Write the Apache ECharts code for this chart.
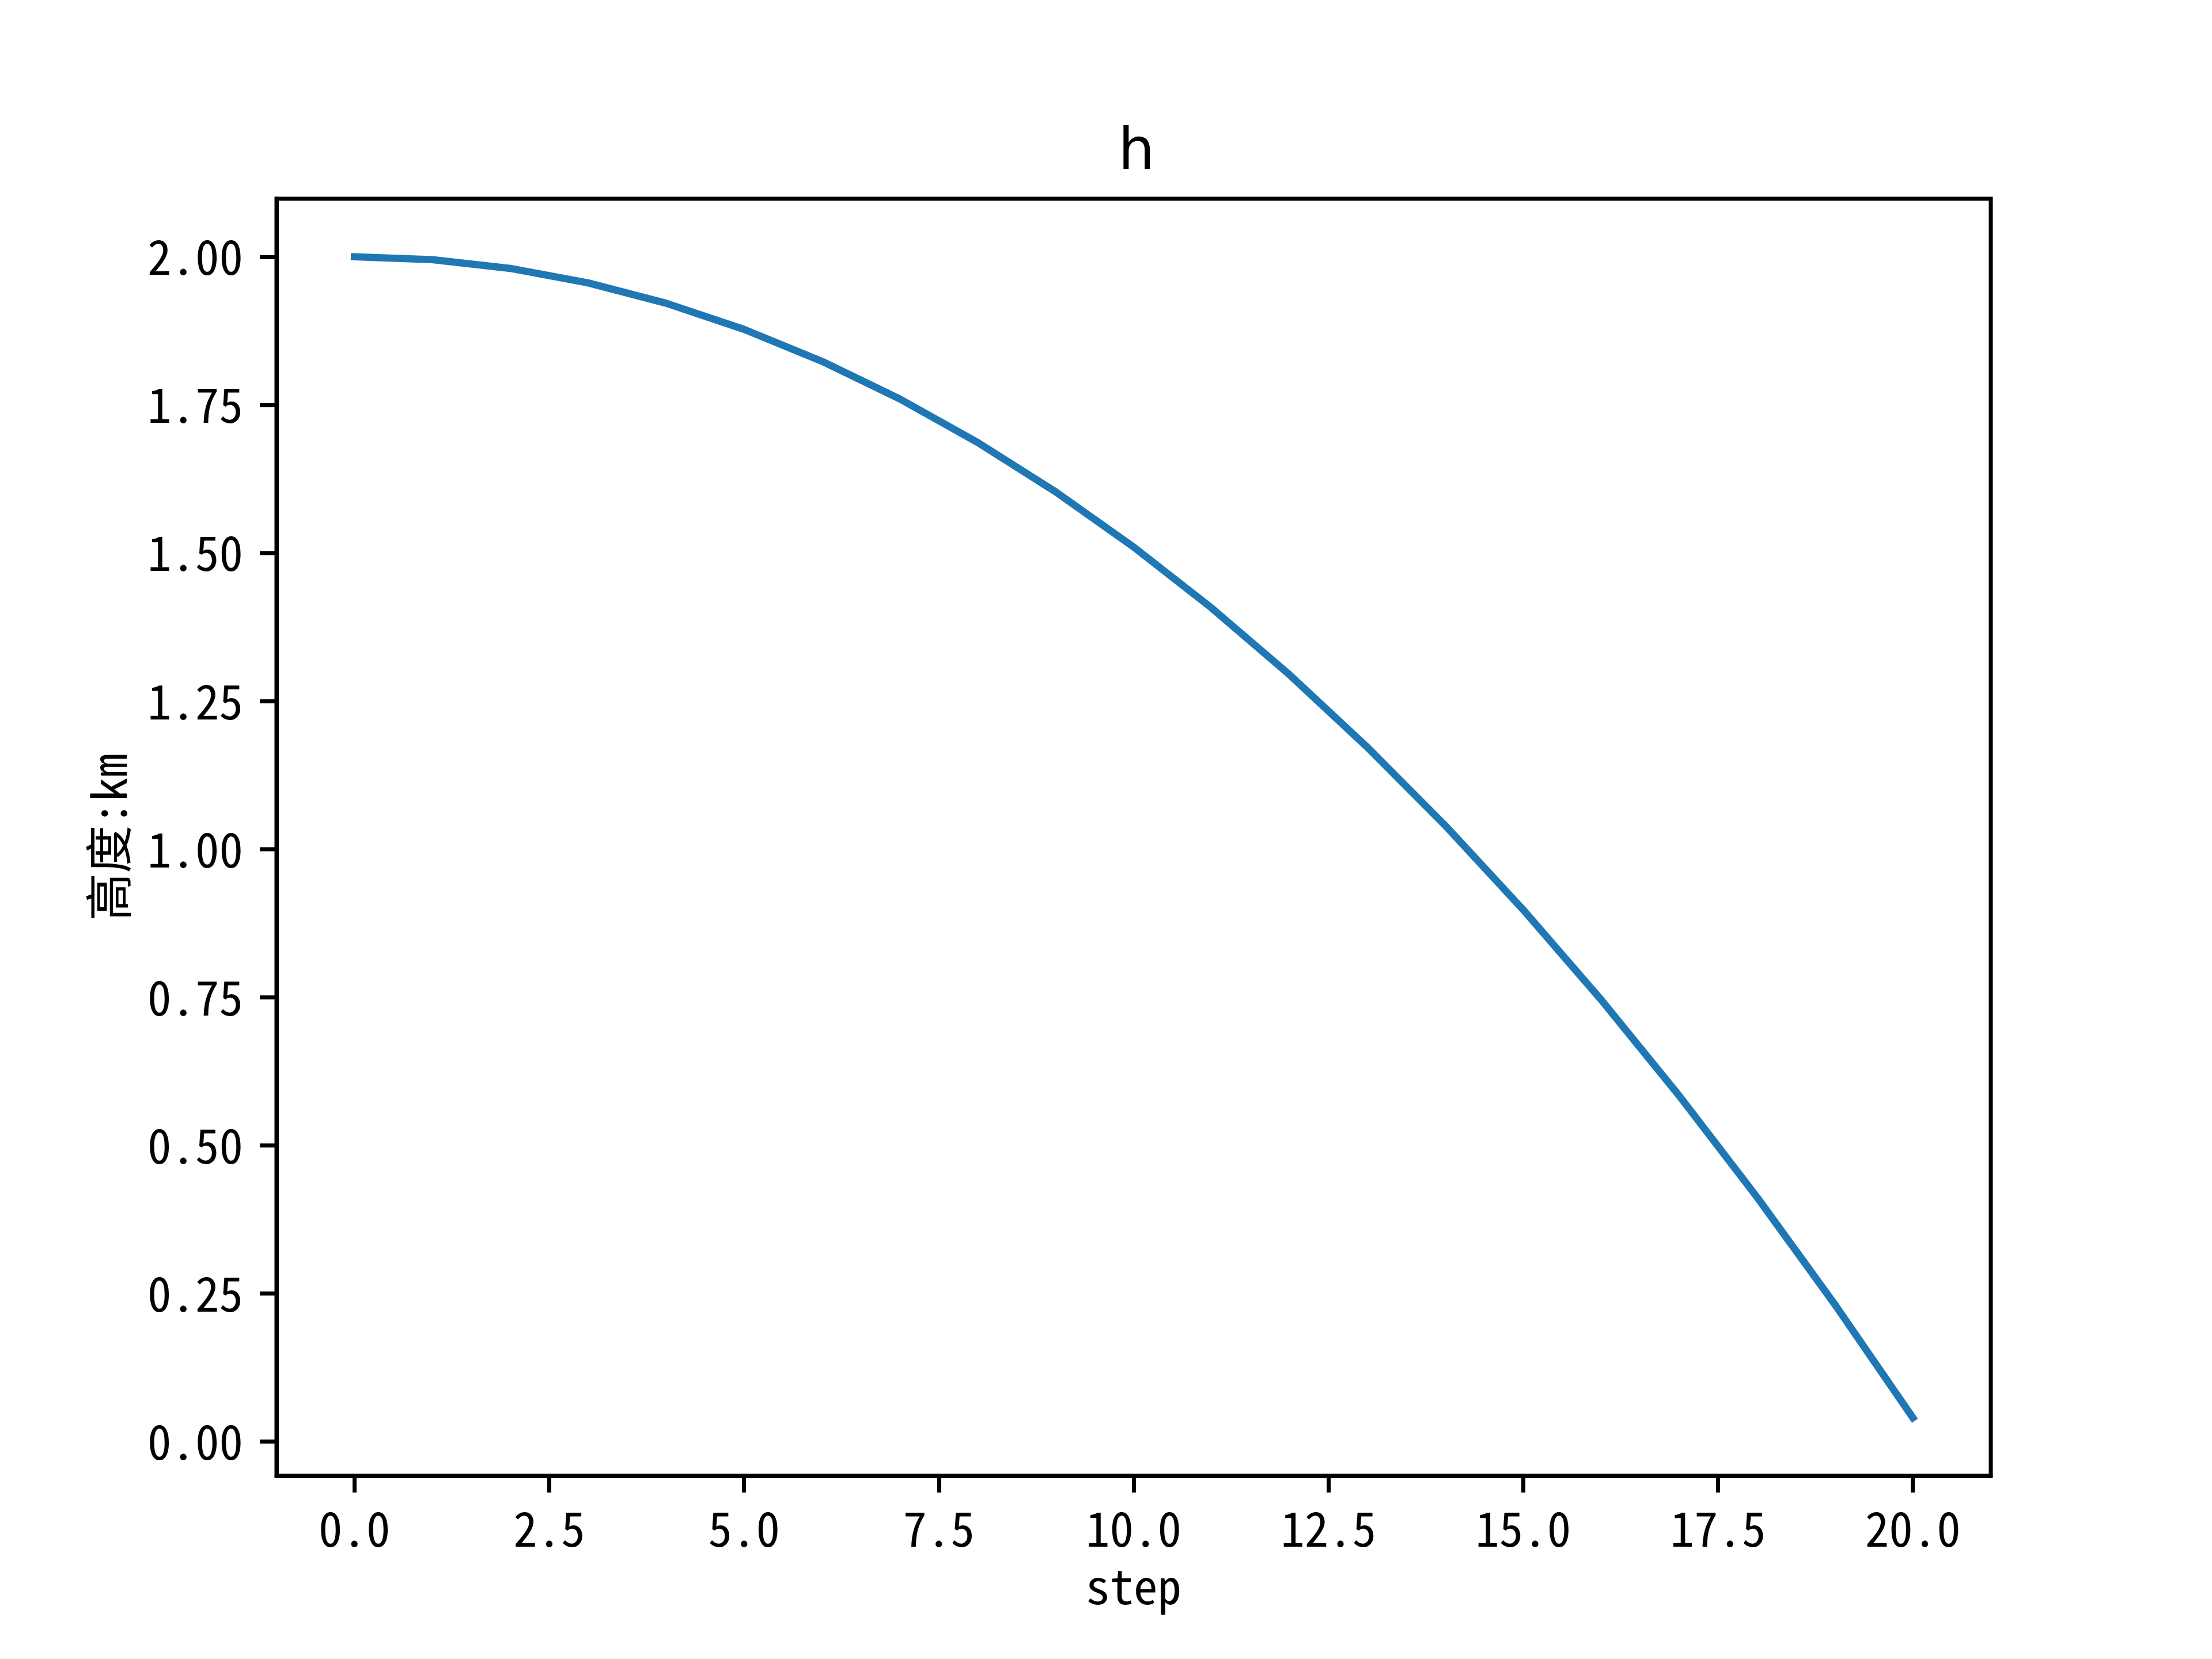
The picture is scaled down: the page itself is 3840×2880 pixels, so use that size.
<!DOCTYPE html>
<html>
<head>
<meta charset="utf-8">
<script src="https://cdn.jsdelivr.net/npm/echarts@6/dist/echarts.min.js"></script>
<style>
html,body{margin:0;padding:0;background:#fff;}
#chart{width:3840px;height:2880px;}
</style>
</head>
<body>
<div id="chart"></div>
<script>
const steps = [0,1,2,3,4,5,6,7,8,9,10,11,12,13,14,15,16,17,18,19,20];
const heights = [2.0,1.9951,1.9804,1.9559,1.9216,1.8775,1.8236,1.7599,1.6864,1.6031,1.51,1.4071,1.2944,1.1719,1.0396,0.8975,0.7456,0.5839,0.4124,0.2311,0.04];
const xTicks = [0,2.5,5,7.5,10,12.5,15,17.5,20];
const yTicks = [0,0.25,0.5,0.75,1.0,1.25,1.5,1.75,2.0];
const titleText = 'h';
const xName = 'step';
const yName = '高度:km';

const labelFont = '"Noto Sans Mono CJK SC", "Noto Sans CJK SC", "DejaVu Sans", sans-serif';
const chart = echarts.init(document.getElementById('chart'), null, {renderer:'canvas'});
chart.setOption({
  backgroundColor:'#fff',
  animation:false,
  title:{
    text:titleText,
    left:1968, top:212, textAlign:'center',
    textStyle:{fontFamily:'"DejaVu Sans", sans-serif', fontSize:100, fontWeight:'normal', color:'#000'}
  },
  grid:{left:480, right:384, top:345, bottom:318, show:true, borderColor:'#000', borderWidth:7, backgroundColor:'transparent'},
  xAxis:{
    type:'value', min:-1, max:21,
    name:xName, nameLocation:'middle', nameGap:150,
    nameTextStyle:{fontFamily:labelFont, fontSize:83, color:'#000'},
    axisLine:{show:true, onZero:false, lineStyle:{color:'#000', width:7}},
    axisTick:{show:true, length:29, inside:false, customValues:xTicks, lineStyle:{color:'#000', width:7}},
    axisLabel:{show:true, margin:50, customValues:xTicks, fontFamily:labelFont, fontSize:83, color:'#000',
      formatter:v=>v.toFixed(1)},
    splitLine:{show:false}
  },
  yAxis:{
    type:'value', min:-0.058, max:2.098,
    name:yName, nameLocation:'middle', nameGap:250, nameRotate:90,
    nameTextStyle:{fontFamily:labelFont, fontSize:83, color:'#000'},
    axisLine:{show:true, onZero:false, lineStyle:{color:'#000', width:7}},
    axisTick:{show:true, length:29, inside:false, customValues:yTicks, lineStyle:{color:'#000', width:7}},
    axisLabel:{show:true, margin:58, customValues:yTicks, fontFamily:labelFont, fontSize:83, color:'#000',
      formatter:v=>v.toFixed(2)},
    splitLine:{show:false}
  },
  series:[{
    type:'line',
    data:steps.map((s,i)=>[s,heights[i]]),
    showSymbol:false,
    lineStyle:{color:'#1f77b4', width:12.5, cap:'square'},
    itemStyle:{color:'#1f77b4'}
  }]
});
</script>
</body>
</html>
